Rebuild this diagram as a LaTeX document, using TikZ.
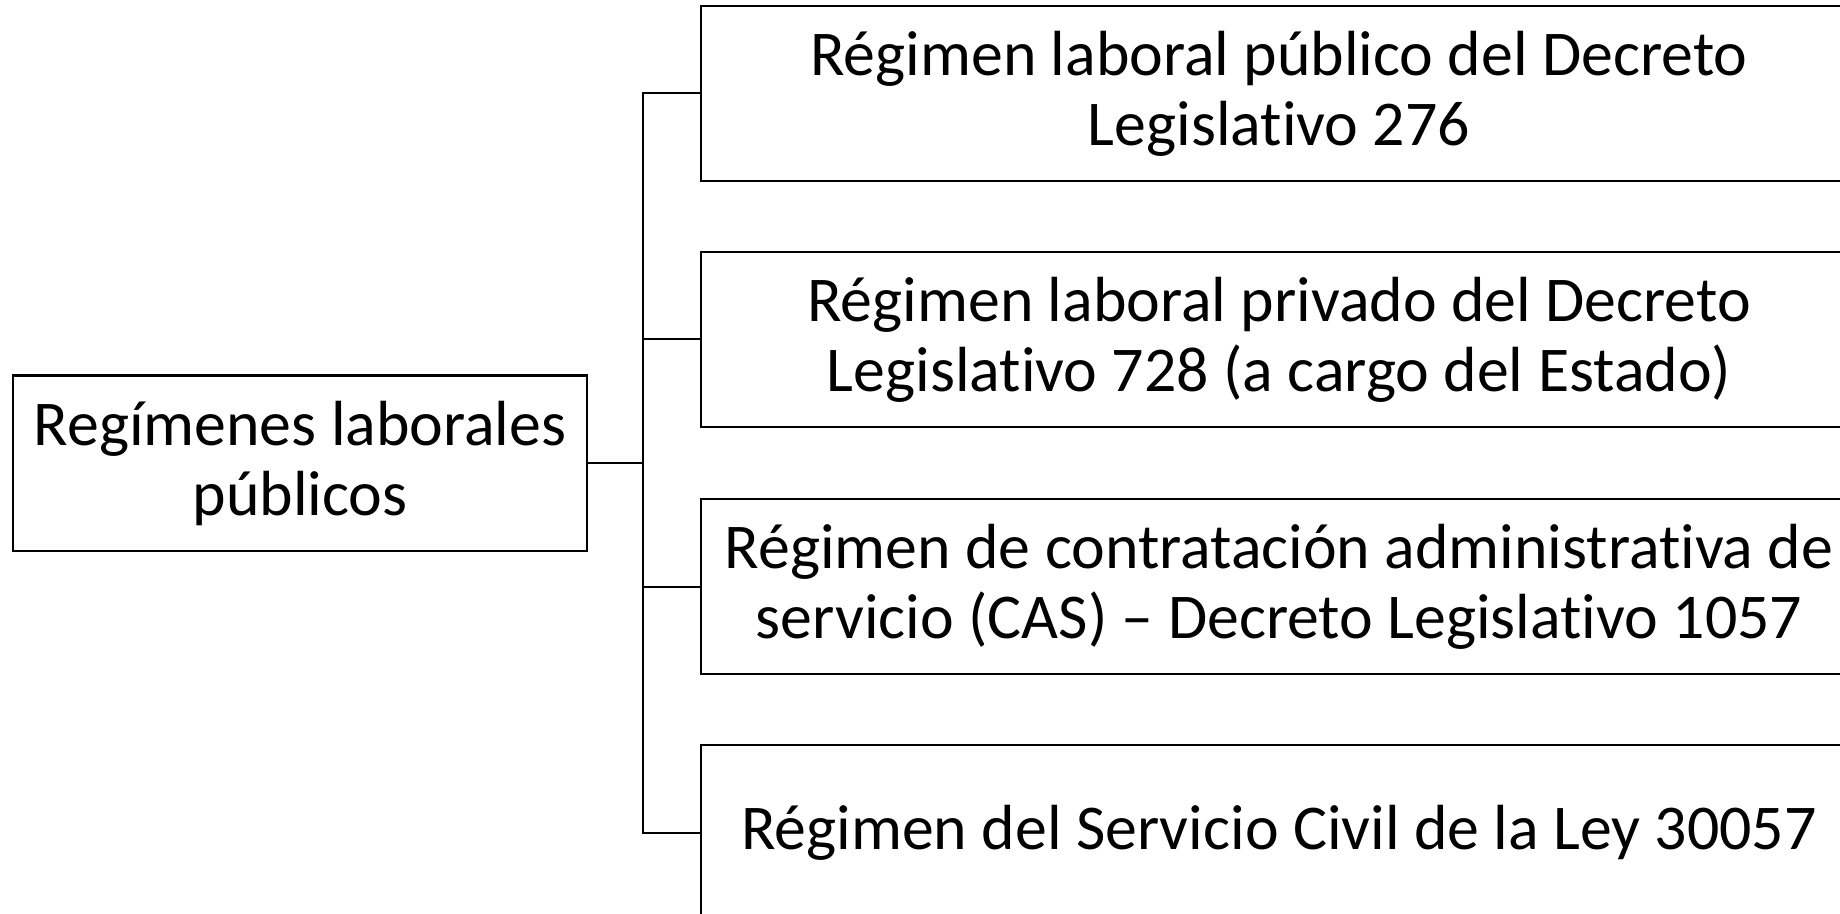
\documentclass[tikz,border=0pt]{standalone}
\usepackage{fontspec}
\setmainfont[Ligatures=NoCommon]{Carlito}
\begin{document}
\begin{tikzpicture}[x=0.5pt,y=-0.5pt,
  box/.style={draw=black, line width=1pt, fill=white, align=center, inner sep=0pt,
    font=\fontsize{31.9}{35}\selectfont},
  rootbox/.style={box, minimum width=287pt, minimum height=87.5pt},
  leafbox/.style={box, minimum width=578pt, minimum height=87.5pt},
  link/.style={draw=black, line width=1pt}]
\useasboundingbox (0,0) rectangle (1840,914);
\clip (0,0) rectangle (1840,914);
\fill[white] (0,0) rectangle (1840,914);
\node[rootbox] (root) at (300,463) {Regímenes laborales\\públicos};
\node[leafbox] (b1) at (1279,93.5) {Régimen laboral público del Decreto\\Legislativo 276};
\node[leafbox] (b2) at (1279,339.5) {Régimen laboral privado del Decreto\\Legislativo 728 (a cargo del Estado)};
\node[leafbox] (b3) at (1279,586.5) {Régimen de contratación administrativa de\\servicio (CAS) – Decreto Legislativo 1057};
\node[leafbox] (b4) at (1279,832.5) {Régimen del Servicio Civil de la Ley 30057};
\coordinate (j) at (643,463);
\draw[link] (root.east) -- (j);
\draw[link] (b1.west) -| (j);
\draw[link] (b2.west) -| (j);
\draw[link] (b3.west) -| (j);
\draw[link] (b4.west) -| (j);
\end{tikzpicture}
\end{document}
